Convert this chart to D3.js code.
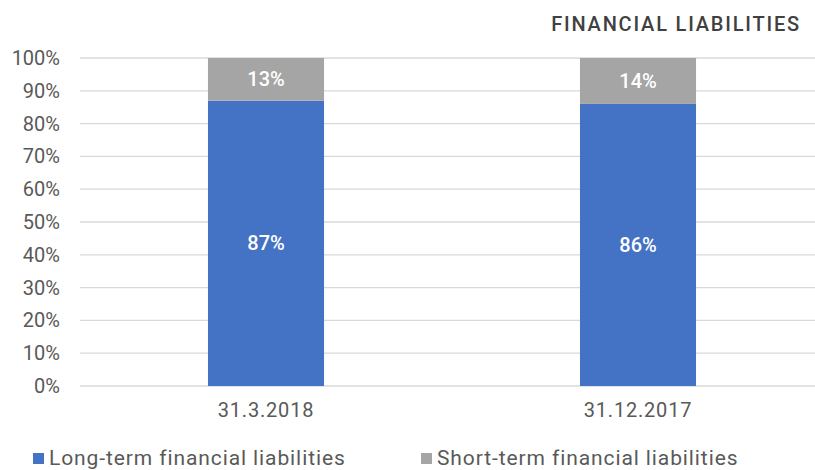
<!DOCTYPE html>
<html><head><meta charset="utf-8">
<script src="https://cdn.jsdelivr.net/npm/d3@7"></script>
<style>body{margin:0;background:#fff}svg{display:block}text{font-family:Roboto,"Noto Sans",sans-serif}</style>
</head><body><svg id="c" width="815" height="470"></svg>
<script>
const categories = ["31.3.2018", "31.12.2017"];
const longTerm = [87, 86];
const shortTerm = [13, 14];
const seriesNames = ["Long-term financial liabilities", "Short-term financial liabilities"];
const yTicks = [0,10,20,30,40,50,60,70,80,90,100];
const title = "FINANCIAL LIABILITIES";
const colors = ["#4472C4", "#A5A5A5"];

const svg = d3.select("#c");
const L = 80, R = 824, T = 58, B = 386;
const x = d3.scaleBand().domain(categories).range([L, R]).paddingInner(0.688).paddingOuter(0.344);
const y = d3.scaleLinear().domain([0, 100]).range([B, T]);

svg.append("text").attr("x", 801).attr("y", 31).attr("text-anchor", "end")
  .attr("font-size", 20).attr("font-weight", 500).attr("letter-spacing", 1.8)
  .attr("fill", "#404040").text(title);

svg.append("g").selectAll("line").data(yTicks).join("line")
  .attr("x1", L).attr("x2", 815).attr("y1", d => y(d)).attr("y2", d => y(d))
  .attr("stroke", "#d9d9d9").attr("stroke-width", 1.3);

svg.append("g").selectAll("text").data(yTicks).join("text")
  .attr("x", 60).attr("y", d => y(d)).attr("dy", "0.35em").attr("text-anchor", "end")
  .attr("font-size", 20).attr("fill", "#595959").text(d => d + "%");

const stacked = categories.map((c, i) => ({c, vals: [longTerm[i], shortTerm[i]]}));
stacked.forEach(s => {
  let acc = 0;
  s.vals.forEach((v, j) => {
    const y0 = acc, y1 = acc + v; acc = y1;
    svg.append("rect").attr("x", x(s.c)).attr("width", x.bandwidth())
      .attr("y", y(y1)).attr("height", y(y0) - y(y1)).attr("fill", colors[j]);
    svg.append("text").attr("x", x(s.c) + x.bandwidth()/2).attr("y", y((y0 + y1)/2))
      .attr("dy", "0.35em").attr("text-anchor", "middle").attr("font-size", 20)
      .attr("font-weight", 500).attr("fill", "#fff").text(v + "%");
  });
});

svg.append("g").selectAll("text").data(categories).join("text")
  .attr("x", d => x(d) + x.bandwidth()/2).attr("y", 417).attr("text-anchor", "middle")
  .attr("font-size", 20).attr("letter-spacing", 0.8).attr("fill", "#595959").text(d => d);

const legX = [33, 421];
seriesNames.forEach((n, i) => {
  svg.append("rect").attr("x", legX[i]).attr("y", 453).attr("width", 11).attr("height", 11).attr("fill", colors[i]);
  svg.append("text").attr("x", legX[i] + 16).attr("y", 465).attr("font-size", 21)
    .attr("fill", "#595959").attr("letter-spacing", 0.9).text(n);
});
</script></body></html>
